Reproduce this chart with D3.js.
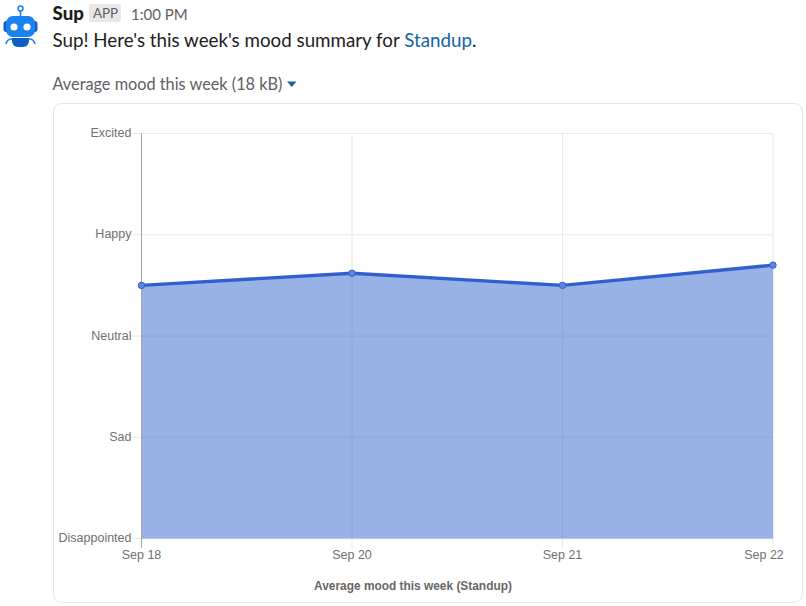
<!DOCTYPE html>
<html>
	<head>
		<title>Sup - Average mood</title>
		<script src="https://d3js.org/d3.v7.min.js"></script>
		<style>
			html, body { margin: 0; padding: 0; background: #fff; }
			svg { display: block; }
			.slack { font-family: Lato, sans-serif; }
			.chart text { font-family: "Liberation Sans", Arial, sans-serif; }
		</style>
	</head>
	<body>
		<svg width="806" height="606"></svg>
		<script type="text/javascript">
			var dates = ["Sep 18", "Sep 20", "Sep 21", "Sep 22"];
			var moods = ["Disappointed", "Sad", "Neutral", "Happy", "Excited"];
			var moodValues = [2.5, 2.62, 2.5, 2.7];

			var svg = d3.select("svg");

			// header message
			var msg = svg.append("g").attr("class", "slack");
			msg.append("text").attr("x", 52.5).attr("y", 20)
				.attr("font-size", 18.7).attr("font-weight", 900).attr("fill", "#1d1c1d").text("Sup");
			msg.append("rect").attr("x", 89).attr("y", 4).attr("width", 32).attr("height", 18)
				.attr("rx", 2).attr("fill", "#e8e8e8");
			msg.append("text").attr("x", 105.5).attr("y", 17.5).attr("text-anchor", "middle")
				.attr("font-size", 13.4).attr("fill", "#616061").text("APP");
			msg.append("text").attr("x", 131).attr("y", 20)
				.attr("font-size", 15).attr("fill", "#616061").text("1:00 PM");
			var line1 = msg.append("text").attr("x", 52.5).attr("y", 46.7)
				.attr("font-size", 18.75).attr("fill", "#1d1c1d");
			line1.append("tspan").text("Sup! Here's this week's mood summary for ");
			line1.append("tspan").attr("fill", "#1264a3").text("Standup");
			line1.append("tspan").text(".");
			msg.append("text").attr("x", 52.5).attr("y", 90)
				.attr("font-size", 16.3).attr("fill", "#616061").text("Average mood this week (18 kB)");
			msg.append("path").attr("d", "M287,81.5h9.5l-4.75,5.5z").attr("fill", "#1264a3");

			// avatar
			var bot = svg.append("g");
			bot.append("circle").attr("cx", 20.5).attr("cy", 8.5).attr("r", 2.5)
				.attr("fill", "#fff").attr("stroke", "#1a83ee").attr("stroke-width", 1.5);
			bot.append("rect").attr("x", 19.7).attr("y", 11).attr("width", 1.6).attr("height", 6).attr("fill", "#1a83ee");
			bot.append("rect").attr("x", 3.5).attr("y", 21).attr("width", 34).attr("height", 11).attr("rx", 3).attr("fill", "#0f5fc4");
			bot.append("rect").attr("x", 6).attr("y", 16).attr("width", 29).attr("height", 21).attr("rx", 7).attr("fill", "#1a83ee");
			bot.append("circle").attr("cx", 14).attr("cy", 27).attr("r", 3.6).attr("fill", "#fff");
			bot.append("circle").attr("cx", 27).attr("cy", 27).attr("r", 3.6).attr("fill", "#fff");
			bot.append("path").attr("d", "M12,38h17v3a6,6 0 0 1 -6,6h-5a6,6 0 0 1 -6,-6z").attr("fill", "#0f5fc4");
			bot.append("path").attr("d", "M12,39q-5,0 -6,5M29,39q5,0 6,5").attr("fill", "none")
				.attr("stroke", "#1a83ee").attr("stroke-width", 1.6);

			// card round the chart
			svg.append("rect").attr("x", 53.5).attr("y", 103.5).attr("width", 749).attr("height", 499)
				.attr("rx", 8).attr("fill", "#fff").attr("stroke", "#e4e4e4");

			var chart = svg.append("g").attr("class", "chart");

			var x = d3.scalePoint().domain(dates).range([141.5, 773]);
			var y = d3.scalePoint().domain(moods).range([538.5, 133.5]);
			var yLinear = d3.scaleLinear().domain([0, moods.length - 1]).range([538.5, 133.5]);

			// grid lines and ticks
			chart.append("g").selectAll("line").data(moods).enter().append("line")
				.attr("x1", 131.5).attr("x2", 773)
				.attr("y1", function(d) { return y(d); })
				.attr("y2", function(d) { return y(d); })
				.attr("stroke", "#e8e8e8");
			chart.append("g").selectAll("line").data(dates).enter().append("line")
				.attr("x1", function(d) { return x(d); })
				.attr("x2", function(d) { return x(d); })
				.attr("y1", 133.5).attr("y2", 548)
				.attr("stroke", "#e8e8e8");

			// area and line
			var area = d3.area()
				.x(function(d, i) { return x(dates[i]); })
				.y0(yLinear(0))
				.y1(function(d) { return yLinear(d); });
			var line = d3.line()
				.x(function(d, i) { return x(dates[i]); })
				.y(function(d) { return yLinear(d); });

			chart.append("path").attr("d", area(moodValues))
				.attr("fill", "#3366cc").attr("fill-opacity", 0.5);
			chart.append("line").attr("x1", 141.5).attr("x2", 141.5).attr("y1", 133.5).attr("y2", 548)
				.attr("stroke", "#a6a6a6");
			chart.append("path").attr("d", line(moodValues))
				.attr("fill", "none").attr("stroke", "#3060cf").attr("stroke-width", 3.4);
			chart.append("g").selectAll("circle").data(moodValues).enter().append("circle")
				.attr("cx", function(d, i) { return x(dates[i]); })
				.attr("cy", function(d) { return yLinear(d); })
				.attr("r", 3.2)
				.attr("fill", "#5f86dc").attr("stroke", "#3060cf");

			// labels
			chart.append("g").selectAll("text").data(moods).enter().append("text")
				.attr("x", 131.5)
				.attr("y", function(d) { return y(d) + 3.5; })
				.attr("text-anchor", "end")
				.attr("font-size", 12.5)
				.attr("fill", "#707070")
				.text(function(d) { return d; });
			chart.append("g").selectAll("text").data(dates).enter().append("text")
				.attr("x", function(d, i) { return i == dates.length - 1 ? x(d) - 9 : x(d); })
				.attr("y", 559)
				.attr("text-anchor", "middle")
				.attr("font-size", 12.5)
				.attr("fill", "#707070")
				.text(function(d) { return d; });
			chart.append("text").attr("x", 413).attr("y", 590)
				.attr("text-anchor", "middle")
				.attr("font-size", 11.9).attr("font-weight", "bold").attr("fill", "#666")
				.text("Average mood this week (Standup)");
		</script>
	</body>
</html>
